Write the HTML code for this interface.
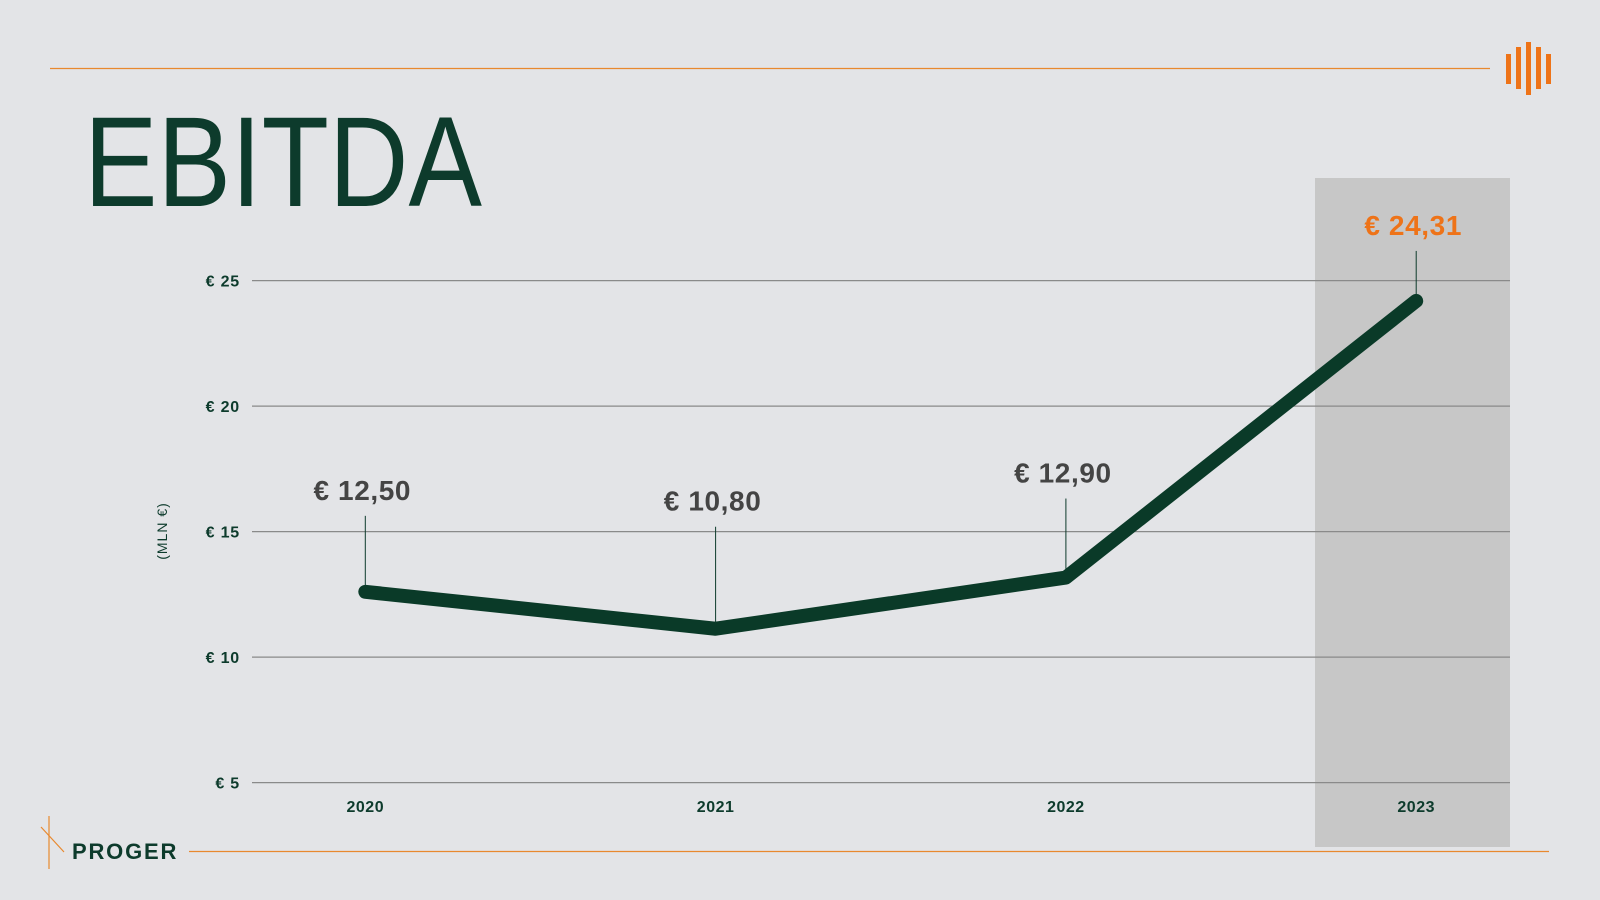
<!DOCTYPE html>
<html><head><meta charset="utf-8"><style>
html,body{margin:0;padding:0;background:#e3e4e7;}
svg{display:block;font-family:"Liberation Sans",sans-serif;}
</style></head><body>
<svg id="chart" width="1600" height="900" viewBox="0 0 1600 900">
<rect width="1600" height="900" fill="#e3e4e7"/>
<line x1="50" y1="68.5" x2="1490" y2="68.5" stroke="#e8892f" stroke-width="1.2"/>
<g fill="#ee7318">
<rect x="1506" y="54" width="5" height="30"/><rect x="1516" y="47" width="5" height="42"/><rect x="1526" y="42" width="5" height="53"/><rect x="1536" y="47" width="5" height="42"/><rect x="1546" y="54" width="5" height="30"/>
</g>
<text x="84" y="206" font-size="128" fill="#0d3b2c" textLength="398" lengthAdjust="spacingAndGlyphs" style="font-weight:300">EBITDA</text>
<rect x="1315" y="178" width="195" height="669" fill="#c7c7c7"/>
<g id="grid"></g>
<g id="marks"></g>
<text transform="translate(167,531) rotate(-90)" text-anchor="middle" font-size="14" letter-spacing="1" fill="#0d3b2c">(MLN €)</text>
<g>
<line x1="49" y1="816" x2="49" y2="869" stroke="#e8892f" stroke-width="1.2"/>
<line x1="41" y1="827" x2="64" y2="852" stroke="#e8892f" stroke-width="1.2"/>
<text x="72" y="859" font-size="22" font-weight="bold" fill="#0d3b2c" letter-spacing="1.8">PROGER</text>
<line x1="189" y1="851.5" x2="1549" y2="851.5" stroke="#e8892f" stroke-width="1.2"/>
</g>
</svg>
<script>
const years = ["2020","2021","2022","2023"];
const values = [12.6, 11.13, 13.17, 24.19];
const valueLabels = ["€ 12,50","€ 10,80","€ 12,90","€ 24,31"];
const yTicks = [5,10,15,20,25];
const yTickLabels = ["€ 5","€ 10","€ 15","€ 20","€ 25"];
const NS="http://www.w3.org/2000/svg";
const x0=365.3, dx=350.3;
function xs(i){return x0+i*dx;}
function ys(v){return 280.6+(25-v)*25.1;}
function mk(tag,attrs,parent,txt){const e=document.createElementNS(NS,tag);for(const k in attrs)e.setAttribute(k,attrs[k]);if(txt!==undefined)e.textContent=txt;parent.appendChild(e);return e;}
const grid=document.getElementById('grid'), marks=document.getElementById('marks');
yTicks.forEach((t,i)=>{
  const l=mk('line',{x1:252,x2:1510,y1:ys(t),y2:ys(t),stroke:'#8a8a8a','stroke-width':1.3},grid);
  
  
  const tx=mk('text',{x:240,y:ys(t)+6,'text-anchor':'end','font-size':16,'font-weight':'bold','letter-spacing':0.8,fill:'#0d3b2c'},grid,yTickLabels[i]);
  
  
});
years.forEach((y,i)=>{
  const tx=mk('text',{x:xs(i),y:812,'text-anchor':'middle','font-size':16,'font-weight':'bold','letter-spacing':0.5,fill:'#0d3b2c'},grid,y);
  
  
});
const pts=values.map((v,i)=>xs(i)+','+ys(v)).join(' ');
const pl=mk('polyline',{points:pts,fill:'none',stroke:'#0a3a28','stroke-width':14,'stroke-linecap':'round','stroke-linejoin':'round'},marks);


const labelOffsets=[76,102,79,50];
values.forEach((v,i)=>{
  const py=ys(v), last=i===values.length-1;
  const top=py-labelOffsets[i];
  const ld=mk('line',{x1:xs(i),x2:xs(i),y1:top,y2:py-6,stroke:'#0d3b2c','stroke-width':1},marks);
  
  
  const tx=mk('text',{x:xs(i)-3,y:top-16,'text-anchor':'middle','font-size':28,'font-weight':'bold','letter-spacing':0.6,fill:last?'#ee7318':'#444444'},marks,valueLabels[i]);
  
  
});
</script>
</body></html>
